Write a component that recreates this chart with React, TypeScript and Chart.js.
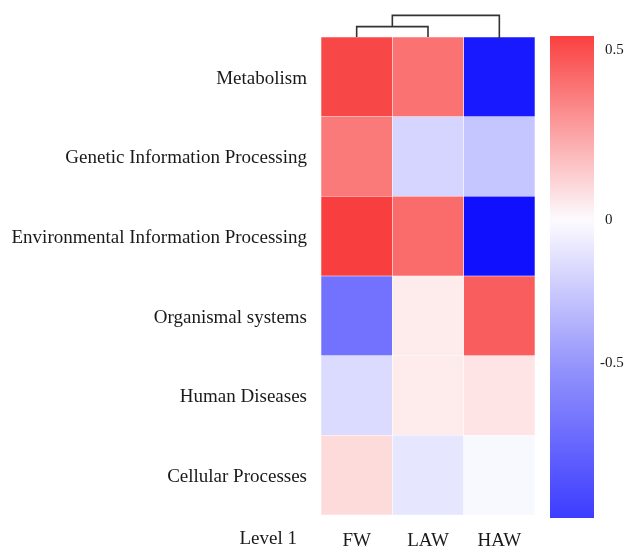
import React, { useEffect, useRef } from "react";
import { Chart, registerables } from "chart.js";

Chart.register(...registerables);

const COLUMNS = ["FW", "LAW", "HAW"];
const ROWS = [
  "Metabolism",
  "Genetic Information Processing",
  "Environmental Information Processing",
  "Organismal systems",
  "Human Diseases",
  "Cellular Processes",
];
const FW_VALUES = [0.51, 0.37, 0.535, -0.63, -0.16, 0.1];
const LAW_VALUES = [0.39, -0.19, 0.41, 0.055, 0.055, -0.11];
const HAW_VALUES = [-1.03, -0.26, -1.07, 0.45, 0.075, -0.03];
const COLORBAR_TICKS = [0.5, 0, -0.5];
const COLORBAR_MAX = 0.54;
const COLORBAR_MIN = -1.04;
// dendrogram: FW+LAW merge first, then with HAW
const MERGE_HEIGHTS = [0.48, 1.0];
const AXIS_TITLE = "Level 1";

const FONT = "'Liberation Serif', 'Times New Roman', serif";
const TEXT = "#1a1a1a";

function colorFor(v: number): string {
  if (v >= 0) {
    const t = Math.min(v / 0.54, 1);
    const r = Math.round(255 - 7 * t);
    const g = Math.round(255 - 195 * t);
    return `rgb(${r},${g},${g})`;
  }
  const t = Math.min(-v / 1.07, 1);
  const c = Math.round(255 - 239 * t);
  return `rgb(${c},${c},255)`;
}

const dendroPlugin = {
  id: "dendro",
  afterDraw(chart: any) {
    const { ctx, chartArea, scales } = chart;
    const x = scales.x;
    const top = chartArea.top;
    const pxPerUnit = 21.6;
    const xa = x.getPixelForValue(0);
    const xb = x.getPixelForValue(1);
    const xc = x.getPixelForValue(2);
    const y1 = top - MERGE_HEIGHTS[0] * pxPerUnit;
    const y2 = top - MERGE_HEIGHTS[1] * pxPerUnit;
    const xm = (xa + xb) / 2;
    ctx.save();
    ctx.strokeStyle = "#333";
    ctx.lineWidth = 1.6;
    ctx.beginPath();
    ctx.moveTo(xa, top);
    ctx.lineTo(xa, y1);
    ctx.lineTo(xb, y1);
    ctx.lineTo(xb, top);
    ctx.moveTo(xm, y1);
    ctx.lineTo(xm, y2);
    ctx.lineTo(xc, y2);
    ctx.lineTo(xc, top + 2);
    ctx.stroke();

    // colorbar
    const cbLeft = chartArea.right + 15;
    const cbRight = cbLeft + 44;
    const cbTop = chartArea.top - 1;
    const cbBottom = chartArea.bottom + 3;
    const zeroFrac = 0.382;
    const y0 = cbTop + zeroFrac * (cbBottom - cbTop);
    const valueToY = (v: number) =>
      v >= 0
        ? y0 - (v / COLORBAR_MAX) * (y0 - cbTop)
        : y0 + (v / COLORBAR_MIN) * (cbBottom - y0);
    const grad = ctx.createLinearGradient(0, cbTop, 0, cbBottom);
    grad.addColorStop(0, "rgb(250,64,64)");
    grad.addColorStop(zeroFrac, "rgb(253,251,254)");
    grad.addColorStop(zeroFrac + (1 - zeroFrac) * 0.48, "rgb(150,150,252)");
    grad.addColorStop(1, "rgb(60,60,255)");
    ctx.fillStyle = grad;
    ctx.fillRect(cbLeft, cbTop, cbRight - cbLeft, cbBottom - cbTop);

    ctx.font = `15px ${FONT}`;
    ctx.fillStyle = TEXT;
    ctx.textBaseline = "middle";
    ctx.textAlign = "left";
    COLORBAR_TICKS.forEach((v) => {
      const label = String(v);
      let tx = cbRight + 11;
      if (v < 0) tx -= ctx.measureText("-").width;
      ctx.fillText(label, tx, valueToY(v));
    });

    // axis title
    ctx.font = `19px ${FONT}`;
    ctx.textAlign = "right";
    ctx.textBaseline = "top";
    ctx.fillText(AXIS_TITLE, chartArea.left - 24, chartArea.bottom + 15);
    ctx.restore();
  },
};

export default function App() {
  const ref = useRef<HTMLCanvasElement | null>(null);
  useEffect(() => {
    document.body.style.margin = "0";
    const canvas = ref.current!;
    const columnsValues = [FW_VALUES, LAW_VALUES, HAW_VALUES];
    const datasets = ROWS.map((row, i) => ({
      label: row,
      data: COLUMNS.map(() => 1),
      backgroundColor: columnsValues.map((col) => colorFor(col[i])),
      borderColor: "rgba(255,255,255,0.3)",
      borderWidth: 0.6,
      borderSkipped: false,
      barPercentage: 1,
      categoryPercentage: 1,
    })).reverse();
    const chart = new Chart(canvas, {
      type: "bar",
      data: { labels: COLUMNS, datasets },
      options: {
        animation: false,
        responsive: false,
        layout: { padding: { top: 37, right: 98, left: 0, bottom: 0 } },
        plugins: { legend: { display: false }, tooltip: { enabled: false } },
        scales: {
          x: {
            stacked: true,
            grid: { display: false, drawTicks: false },
            border: { display: false },
            ticks: { color: TEXT, font: { family: FONT, size: 19 }, padding: 15 },
            afterFit: (s: any) => {
              s.height = 34;
            },
          },
          y: {
            stacked: true,
            min: 0,
            max: ROWS.length,
            grid: { display: false, drawTicks: false },
            border: { display: false },
            afterBuildTicks: (axis: any) => {
              axis.ticks = ROWS.map((_, i) => ({ value: i + 0.5 }));
            },
            ticks: {
              color: TEXT,
              font: { family: FONT, size: 19 },
              padding: 14,
              labelOffset: 2,
              callback: (v: any) => ROWS[ROWS.length - 1 - Math.floor(Number(v))],
            },
            afterFit: (s: any) => {
              s.width = 321;
            },
          },
        },
      },
      plugins: [dendroPlugin],
    });
    return () => chart.destroy();
  }, []);
  return <canvas ref={ref} width={633} height={549} style={{ display: "block" }} />;
}
